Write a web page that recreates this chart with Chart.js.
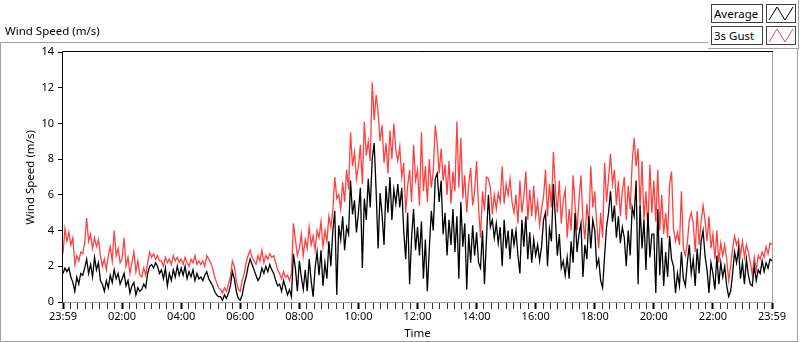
<!DOCTYPE html>
<html><head><meta charset="utf-8">
<script src="https://cdn.jsdelivr.net/npm/chart.js@4.4.0/dist/chart.umd.min.js"></script>
<style>
html,body{margin:0;padding:0;background:#fff;}
#wrap{position:relative;width:800px;height:342px;overflow:hidden;font-family:"Noto Sans",sans-serif;color:#000;}
#frame{position:absolute;left:0;top:42px;width:798px;height:300px;box-sizing:border-box;border:1px solid #a0a0a0;}
#c{position:absolute;left:0;top:0;}
#title{position:absolute;left:5px;top:23px;font-size:11.5px;line-height:16px;white-space:nowrap;}
#legend{position:absolute;left:708px;top:0;width:91px;height:49px;box-sizing:border-box;background:#fff;border-right:1px solid #a0a0a0;border-bottom:1px solid #a0a0a0;}
.lab{position:absolute;left:3px;width:52px;height:19px;box-sizing:border-box;border:1px solid #404040;font-size:11.5px;line-height:17px;padding-left:2px;background:#fff;white-space:nowrap;}
.sw{position:absolute;left:58px;width:30px;height:19px;box-sizing:border-box;border:1px solid #404040;background:#fff;}
.sw svg{position:absolute;left:0;top:0;}
</style>
</head><body>
<div id="wrap">
  <div id="frame"></div>
  <canvas id="c" width="800" height="342"></canvas>
  <div id="title">Wind Speed (m/s)</div>
  <div id="legend">
    <div class="lab" style="top:4px">Average</div>
    <div class="sw" style="top:4px"><svg width="28" height="17"><polyline points="2,15 10,2 18,15 26,2" fill="none" stroke="#000" stroke-width="1"/></svg></div>
    <div class="lab" style="top:26px">3s Gust</div>
    <div class="sw" style="top:26px"><svg width="28" height="17"><polyline points="2,15 10,2 18,15 26,2" fill="none" stroke="#ff4040" stroke-width="1"/></svg></div>
  </div>
</div>
<script>
// ---- data (4-minute samples from 23:59 to 23:59) ----
const sampleStepMinutes = 4;
const timeTickLabels = ['23:59','02:00','04:00','06:00','08:00','10:00','12:00','14:00','16:00','18:00','20:00','22:00','23:59'];
const yTickValues = [0,2,4,6,8,10,12,14];

const gustSpeed = [
2.7,4.1,3.4,3.9,3.2,3.6,2.1,2.6,2.3,2.8,
2.7,3.3,4.7,3.4,3.8,3.0,3.6,3.1,3.5,2.6,
2.0,2.4,1.8,2.6,3.1,2.3,4.0,2.6,3.0,2.2,
2.4,3.6,2.0,2.5,1.6,2.2,2.8,1.7,2.3,1.5,
1.4,1.9,1.5,2.2,2.8,2.5,2.7,2.4,2.6,2.3,
2.3,2.0,2.5,2.2,2.4,2.1,2.6,2.3,2.5,2.2,
2.4,2.1,2.5,2.2,2.0,2.4,2.2,2.6,2.1,2.3,
2.1,2.3,2.0,2.6,2.4,2.2,1.9,1.4,1.1,0.8,
0.7,0.5,0.8,0.6,1.0,1.4,2.3,2.0,1.2,0.7,
0.6,1.2,1.6,2.2,2.6,2.9,2.5,2.3,2.1,2.6,
2.3,2.9,2.2,2.6,2.4,2.7,2.5,2.6,2.2,1.8,
1.6,1.3,1.7,1.4,1.5,1.2,1.6,4.4,3.5,2.6,
3.0,3.8,2.6,3.5,3.0,4.2,3.2,3.7,2.9,4.0,
3.6,4.5,3.1,4.0,3.4,4.8,4.2,5.1,7.0,5.8,
6.0,5.2,6.7,5.6,7.4,6.3,9.5,7.6,8.4,6.9,
7.6,8.8,6.6,10.1,8.2,9.0,7.9,12.3,10.2,11.6,
10.6,9.0,9.9,7.8,8.9,7.2,9.6,8.0,10.0,8.5,
7.9,8.7,7.0,7.8,5.0,6.5,7.4,5.6,8.8,6.8,
7.4,5.4,9.5,6.2,7.6,5.6,8.0,6.4,7.3,9.9,
8.9,7.2,8.6,6.8,7.7,6.0,7.9,5.5,7.3,6.2,
10.1,6.4,9.2,5.8,7.1,5.0,6.6,7.5,5.4,6.2,
7.9,5.3,3.6,6.2,5.1,7.0,6.9,6.4,4.9,6.0,
5.2,6.1,5.6,7.6,5.5,6.6,6.0,6.9,5.6,5.0,
6.0,4.4,6.8,5.0,5.9,7.3,4.6,6.3,4.8,6.5,
4.8,5.6,4.3,5.2,5.9,7.4,4.8,6.6,5.3,8.4,
6.4,5.0,6.8,4.4,5.7,6.3,3.6,5.2,4.0,7.1,
5.4,4.0,5.7,7.1,4.6,3.5,5.5,4.2,7.6,5.3,
6.2,4.4,3.0,5.0,3.6,7.8,5.6,6.9,8.3,6.6,
7.4,5.4,6.8,4.8,6.2,7.0,4.6,6.5,5.2,7.8,
9.2,7.6,8.6,5.2,7.9,4.6,6.2,4.0,7.7,5.0,
6.8,4.5,7.4,4.0,6.0,3.8,5.0,3.6,6.6,7.3,
4.1,3.4,3.9,3.2,6.2,3.0,2.6,3.3,4.6,5.0,
4.4,2.8,5.1,3.2,4.5,5.4,4.6,3.4,4.8,3.0,
3.8,2.4,4.0,2.2,3.3,2.6,3.2,2.4,1.2,2.0,
3.0,3.7,3.2,3.5,2.6,3.4,2.5,3.2,2.8,2.2,
1.5,2.5,1.8,2.6,2.4,2.8,2.5,3.1,2.7,3.3,
3.2];

const averageSpeed = [
1.6,1.9,1.7,1.9,1.4,1.1,0.6,1.4,1.0,1.6,
1.5,1.9,2.4,1.6,2.1,1.4,2.5,1.8,2.2,1.2,
1.0,0.6,1.2,0.8,1.5,1.1,1.8,1.3,1.6,1.0,
1.3,1.6,0.9,1.2,0.5,0.9,1.1,0.4,0.8,0.6,
0.7,1.0,0.8,1.6,2.0,2.1,1.9,2.2,2.0,1.6,
1.8,1.3,1.9,0.9,1.6,1.2,1.8,1.4,2.0,1.5,
1.9,1.5,2.0,1.3,1.7,1.4,1.8,1.2,1.6,1.3,
1.4,1.2,1.5,1.7,1.3,1.1,0.9,0.6,0.4,0.3,
0.3,0.1,0.4,0.2,0.5,0.9,1.7,1.3,0.6,0.2,
0.1,0.4,1.0,1.4,2.0,2.4,2.1,1.8,1.5,1.2,
1.4,1.9,1.6,2.0,1.7,2.1,1.8,1.6,1.2,0.9,
1.0,0.6,1.2,0.8,0.4,0.7,0.3,2.7,1.9,0.6,
2.3,1.4,0.7,1.8,0.6,2.4,1.2,0.3,1.9,2.8,
1.5,2.9,0.9,2.2,1.3,3.4,2.0,4.0,5.1,0.4,
4.3,3.5,4.8,2.9,4.2,3.8,6.8,4.9,5.7,3.9,
5.0,6.4,1.9,5.8,4.6,6.9,5.3,8.0,8.9,6.2,
3.0,6.1,4.9,3.2,6.5,5.0,7.0,4.6,6.3,5.5,
6.6,5.3,6.4,4.0,2.4,5.0,1.0,3.6,5.2,2.9,
4.2,2.6,4.5,1.3,3.5,0.6,3.0,5.1,4.0,6.9,
7.2,5.6,6.8,3.8,5.0,2.6,4.6,3.2,5.2,2.8,
4.8,1.3,5.6,3.1,4.4,0.7,3.8,2.2,4.3,2.6,
3.9,2.2,1.9,4.0,1.0,3.5,6.0,4.2,4.6,3.6,
4.4,3.3,4.2,2.0,4.6,3.0,4.0,2.4,4.1,3.2,
4.0,2.6,1.6,4.6,3.1,4.8,2.4,3.9,2.2,3.5,
2.6,3.2,2.3,3.1,4.6,5.0,2.0,4.1,3.4,6.6,
4.7,2.6,3.8,1.9,2.3,1.5,2.5,1.3,3.4,2.2,
5.0,2.8,3.8,4.4,1.4,3.2,2.4,4.8,3.0,4.6,
4.0,2.0,2.4,1.2,0.8,2.6,4.2,5.0,6.2,4.5,
5.4,3.6,4.8,3.3,4.2,3.6,2.0,4.0,2.6,5.3,
4.8,6.8,1.0,5.4,3.0,4.6,1.8,5.0,2.5,3.8,
3.8,0.5,5.2,1.5,3.6,0.9,2.8,1.4,3.7,2.4,
2.0,0.5,1.6,0.9,2.8,1.3,0.9,2.2,3.2,1.6,
2.4,0.9,3.0,1.6,3.4,4.0,2.6,1.8,0.5,2.2,
1.6,0.7,2.6,1.0,2.2,1.4,2.0,0.9,0.3,0.6,
1.6,2.8,2.2,3.0,1.3,2.2,1.0,2.4,1.5,1.0,
0.9,2.0,1.2,1.8,1.6,2.3,1.7,2.2,1.9,2.4,
2.3];

const timeMinutes = averageSpeed.map((_, i) => i * sampleStepMinutes);
const minorTickMinutes = Array.from({length: 1440 / 15 + 1}, (_, i) => i * 15);

// ---- chart ----
Chart.defaults.font.family = '"Noto Sans", sans-serif';
Chart.defaults.font.size = 11;
Chart.defaults.color = '#000';

const plotFrame = {
  id: 'plotFrame',
  afterDatasetsDraw(chart) {
    const {ctx, chartArea: a} = chart;
    ctx.save();
    ctx.lineWidth = 1;
    ctx.strokeStyle = '#a0a0a0';
    ctx.beginPath();
    ctx.moveTo(a.right + 0.5, a.top);
    ctx.lineTo(a.right + 0.5, a.bottom);
    ctx.moveTo(a.left, a.bottom - 0.5);
    ctx.lineTo(a.right + 1, a.bottom - 0.5);
    ctx.stroke();
    ctx.strokeStyle = '#000';
    ctx.beginPath();
    ctx.moveTo(a.left - 0.5, a.bottom);
    ctx.lineTo(a.left - 0.5, a.top - 0.5);
    ctx.lineTo(a.right + 1, a.top - 0.5);
    ctx.stroke();
    ctx.restore();
  }
};

new Chart(document.getElementById('c'), {
  type: 'line',
  data: {
    datasets: [
      {
        label: 'Average',
        data: averageSpeed.map((v, i) => ({x: timeMinutes[i], y: v})),
        borderColor: '#000000',
        borderWidth: 1.3,
        pointRadius: 0,
        tension: 0,
        fill: false
      },
      {
        label: '3s Gust',
        data: gustSpeed.map((v, i) => ({x: timeMinutes[i], y: v})),
        borderColor: '#ff4040',
        borderWidth: 1.3,
        pointRadius: 0,
        tension: 0,
        fill: false
      }
    ]
  },
  options: {
    responsive: false,
    animation: false,
    events: [],
    layout: {padding: {top: 52, right: 28, bottom: 0, left: 0}},
    plugins: {legend: {display: false}, tooltip: {enabled: false}, title: {display: false}},
    scales: {
      x: {
        type: 'linear',
        min: 0,
        max: 1440,
        afterBuildTicks: s => { s.ticks = minorTickMinutes.map(v => ({value: v})); },
        afterFit: s => { s.height = 39; },
        border: {display: false},
        grid: {
          drawOnChartArea: false,
          drawTicks: true,
          tickLength: 6,
          tickColor: ctx => (ctx.tick && ctx.tick.value % 120 === 0) ? '#000' : '#333',
          tickWidth: ctx => (ctx.tick && ctx.tick.value % 120 === 0) ? 2 : 1
        },
        ticks: {
          autoSkip: false,
          maxRotation: 0,
          padding: 1,
          font: {size: 11},
          callback: v => (v % 120 === 0) ? timeTickLabels[v / 120] : ''
        },
        title: {display: true, text: 'Time', font: {size: 11.5}, padding: {top: 0, bottom: 1}}
      },
      y: {
        min: -0.056,
        max: 14,
        afterBuildTicks: s => { s.ticks = yTickValues.map(v => ({value: v})); },
        afterFit: s => { s.width = 63; },
        border: {display: false},
        grid: {drawOnChartArea: false, drawTicks: true, tickLength: 5, tickColor: '#000'},
        ticks: {padding: 4, font: {size: 11}},
        title: {display: true, text: 'Wind Speed (m/s)', font: {size: 11.5}, padding: {top: 24, bottom: 0}}
      }
    }
  },
  plugins: [plotFrame]
});
</script>
</body></html>
